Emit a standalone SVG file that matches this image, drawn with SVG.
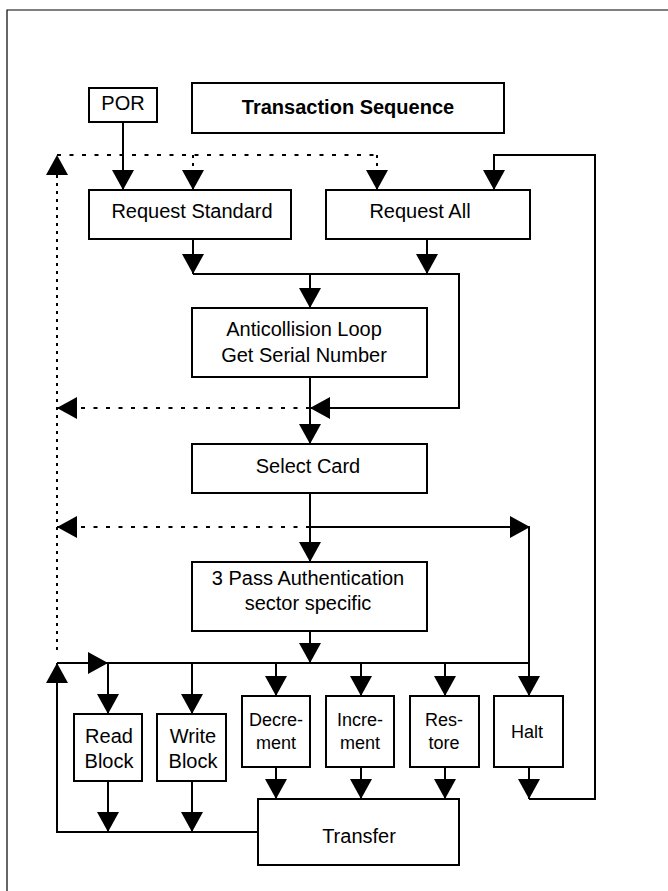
<svg xmlns="http://www.w3.org/2000/svg" width="668" height="891" viewBox="0 0 668 891">
<style>
.box{fill:#fff;stroke:#000;stroke-width:2}
.t{font-family:"Liberation Sans",Arial,sans-serif;font-size:20px;fill:#000;text-anchor:middle}
.s{font-size:18px}
.b{font-weight:bold}
.c{fill:none;stroke:#000;stroke-width:2}
.a{marker-end:url(#ah)}
.dh{fill:none;stroke:#000;stroke-width:2;stroke-dasharray:4 8.5}
.dv{fill:none;stroke:#000;stroke-width:2;stroke-dasharray:3 5}
</style>
<defs>
<marker id="ah" markerUnits="userSpaceOnUse" markerWidth="20" markerHeight="22" refX="20" refY="11" orient="auto">
<path d="M0,0 L20,11 L0,22 Z" fill="#000"/>
</marker>
</defs>
<rect width="668" height="891" fill="#fff"/>
<path d="M7,891 V10 H668" fill="none" stroke="#000" stroke-width="1.2"/>

<g id="connectors">
<!-- dotted returns -->
<path class="dv a" d="M57,650 V155"/>
<path class="dh" d="M57,155 H377"/>
<path class="dv a" d="M377,155 V190"/>
<path class="dv a" d="M193,155 V190"/>
<path class="dh a" d="M310,408 H57"/>
<path class="dh a" d="M310,527 H57"/>
<!-- solid -->
<path class="c a" d="M123,122 V190"/>
<path class="c a" d="M193,239 V274"/>
<path class="c a" d="M427,239 V274"/>
<path class="c" d="M193,274 H459 V408 H330"/>
<path class="c a" d="M330,408 H310"/>
<path class="c a" d="M310,274 V308"/>
<path class="c a" d="M310,377 V444"/>
<path class="c a" d="M310,493 V562"/>
<path class="c a" d="M310,527 H530"/>
<path class="c a" d="M529,527 V696"/>
<path class="c a" d="M310,631 V663"/>
<path class="c a" d="M57,663 H108"/>
<path class="c" d="M108,663 H529"/>
<path class="c a" d="M108,663 V714"/>
<path class="c a" d="M192,663 V714"/>
<path class="c a" d="M276,663 V696"/>
<path class="c a" d="M361,663 V696"/>
<path class="c a" d="M445,663 V696"/>
<path class="c a" d="M108,781 V832"/>
<path class="c a" d="M192,781 V832"/>
<path class="c a" d="M276,767 V799"/>
<path class="c a" d="M361,767 V799"/>
<path class="c a" d="M445,767 V799"/>
<path class="c a" d="M529,767 V799"/>
<path class="c" d="M529,799 H595 V155 H494 V170"/>
<path class="c a" d="M494,170 V190"/>
<path class="c" d="M258,832 H57 V680"/>
<path class="c a" d="M57,680 V663"/>
</g>

<g id="por"><rect class="box" x="89" y="88" width="68" height="34"/><text class="t" x="123" y="110">POR</text></g>
<g id="title"><rect class="box" x="192" y="83" width="312" height="50"/><text class="t b" x="348" y="114">Transaction Sequence</text></g>
<g id="reqstd"><rect class="box" x="89" y="190" width="202" height="49"/><text class="t" x="192" y="218">Request Standard</text></g>
<g id="reqall"><rect class="box" x="326" y="190" width="204" height="49"/><text class="t" x="420" y="218">Request All</text></g>
<g id="anticoll"><rect class="box" x="192" y="308" width="235" height="69"/><text class="t" x="304" y="336">Anticollision Loop</text><text class="t" x="304" y="362">Get Serial Number</text></g>
<g id="select"><rect class="box" x="192" y="444" width="235" height="49"/><text class="t" x="308" y="473">Select Card</text></g>
<g id="auth"><rect class="box" x="192" y="562" width="235" height="69"/><text class="t" x="308" y="585">3 Pass Authentication</text><text class="t" x="308" y="610">sector specific</text></g>
<g id="read"><rect class="box" x="74" y="714" width="68" height="67"/><text class="t" x="109" y="743">Read</text><text class="t" x="109" y="768">Block</text></g>
<g id="write"><rect class="box" x="157" y="714" width="69" height="67"/><text class="t" x="193" y="743">Write</text><text class="t" x="193" y="768">Block</text></g>
<g id="decrement"><rect class="box" x="242" y="696" width="68" height="71"/><text class="t s" x="276" y="726">Decre-</text><text class="t s" x="276" y="749">ment</text></g>
<g id="increment"><rect class="box" x="326" y="696" width="68" height="71"/><text class="t s" x="360" y="726">Incre-</text><text class="t s" x="360" y="749">ment</text></g>
<g id="restore"><rect class="box" x="410" y="696" width="69" height="71"/><text class="t s" x="444" y="726">Res-</text><text class="t s" x="444" y="749">tore</text></g>
<g id="halt"><rect class="box" x="494" y="696" width="69" height="71"/><text class="t s" x="527" y="738">Halt</text></g>
<g id="transfer"><rect class="box" x="258" y="799" width="201" height="66"/><text class="t" x="359" y="843">Transfer</text></g>
</svg>
